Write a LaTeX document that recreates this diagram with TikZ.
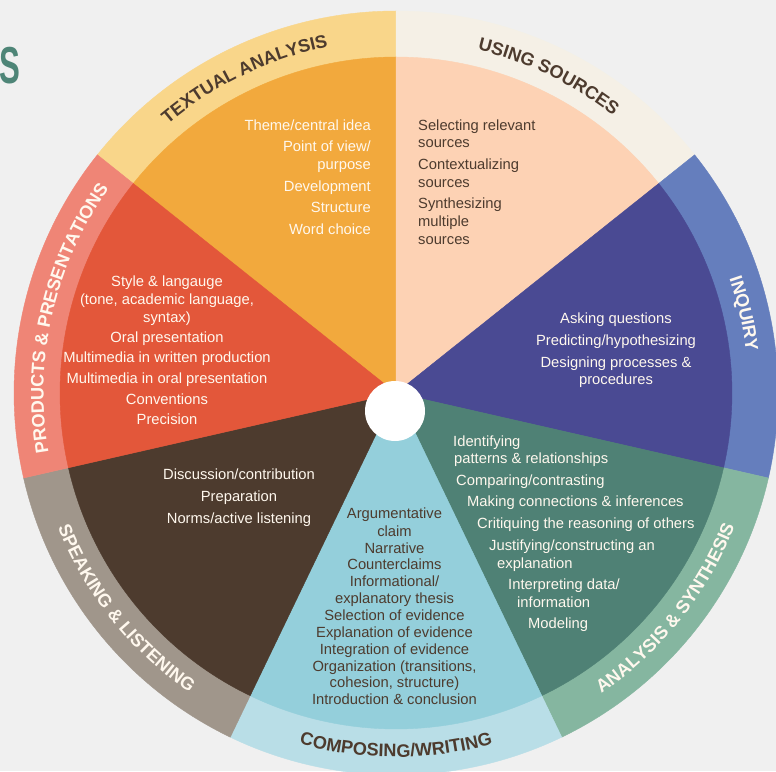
\documentclass[tikz,border=0pt]{standalone}
\usepackage{fontspec}
\setmainfont{Liberation Sans}
\usetikzlibrary{decorations.text}
\definecolor{bgc}{HTML}{F0F0F0}
\definecolor{secTA}{HTML}{F2A93D}\definecolor{ringTA}{HTML}{F9D68A}
\definecolor{secUS}{HTML}{FDD2B4}\definecolor{ringUS}{HTML}{F5F0E6}
\definecolor{secIQ}{HTML}{4A4A93}\definecolor{ringIQ}{HTML}{657EBD}
\definecolor{secAN}{HTML}{4F8175}\definecolor{ringAN}{HTML}{85B6A0}
\definecolor{secCW}{HTML}{94CFDB}\definecolor{ringCW}{HTML}{B9DEE7}
\definecolor{secSL}{HTML}{4D3B2E}\definecolor{ringSL}{HTML}{A0968B}
\definecolor{secPP}{HTML}{E3573A}\definecolor{ringPP}{HTML}{EF8576}
\definecolor{wtxt}{HTML}{FFF8EE}
\definecolor{dtxt}{HTML}{4D3B2E}
\definecolor{teal}{HTML}{4E8577}
\newcommand{\itemfont}{\fontsize{14.75}{17}\selectfont}
\newcommand{\ringfont}{\bfseries\fontsize{18.1}{18}\selectfont}
\tikzset{
  item/.style={font=\itemfont, inner sep=0pt, text height=14pt, text depth=3pt},
  wit/.style={item, text=wtxt},
  dit/.style={item, text=dtxt},
  ringlabel/.style={decorate, decoration={text along path, text align=center, text color=#1}}
}
\begin{document}
\begin{tikzpicture}[x=1pt,y=1pt]
\useasboundingbox (-396,-378) rectangle (380,393);
\clip (-396,-378) rectangle (380,393);
\fill[bgc] (-396,-378) rectangle (380,393);
% outer rings
\foreach \a/\b/\c in {90/141.4286/ringTA, 38.5714/90/ringUS, -12.8571/38.5714/ringIQ,
  -64.2857/-12.8571/ringAN, -115.7143/-64.2857/ringCW, -167.1429/-115.7143/ringSL,
  -218.5714/-167.1429/ringPP}{
  \filldraw[fill=\c, draw=\c, line width=0.4pt] (0,0) -- (\a:382pt) arc[start angle=\a, end angle=\b, radius=382pt] -- cycle;
}
% inner sectors
\foreach \a/\b/\c in {90/141.4286/secTA, 38.5714/90/secUS, -12.8571/38.5714/secIQ,
  -64.2857/-12.8571/secAN, -115.7143/-64.2857/secCW, -167.1429/-115.7143/secSL,
  -218.5714/-167.1429/secPP}{
  \filldraw[fill=\c, draw=\c, line width=0.4pt] (0,0) -- (\a:336pt) arc[start angle=\a, end angle=\b, radius=336pt] -- cycle;
}
\node[circle, fill=white, minimum size=60pt, inner sep=0pt] (hub) at (-1,-18) {};
% ring labels
\path[ringlabel=dtxt, decoration={text={|\ringfont|TEXTUAL ANALYSIS}}]
  (141.4286:352.5pt) arc[start angle=141.4286, end angle=90, radius=352.5pt];
\path[ringlabel=dtxt, decoration={text={|\ringfont|USING SOURCES}}]
  (90:352.5pt) arc[start angle=90, end angle=38.5714, radius=352.5pt];
\path[ringlabel=wtxt, decoration={text={|\ringfont|INQUIRY}}]
  (38.5714:352.5pt) arc[start angle=38.5714, end angle=-12.8571, radius=352.5pt];
\path[ringlabel=wtxt, decoration={text={|\ringfont|PRODUCTS {\&} PRESENTATIONS}}]
  (192.8571:352.5pt) arc[start angle=192.8571, end angle=141.4286, radius=352.5pt];
\path[ringlabel=wtxt, decoration={text={|\ringfont|ANALYSIS {\&} SYNTHESIS}}]
  (-64.2857:364pt) arc[start angle=-64.2857, end angle=-12.8571, radius=364pt];
\path[ringlabel=dtxt, decoration={text={|\ringfont|COMPOSING/WRITING}}]
  (-115.7143:364pt) arc[start angle=-115.7143, end angle=-64.2857, radius=364pt];
\path[ringlabel=wtxt, decoration={text={|\ringfont|SPEAKING {\&} LISTENING}}]
  (192.8571:364pt) arc[start angle=192.8571, end angle=244.2857, radius=364pt];
% title fragment
\node[font=\bfseries\fontsize{52}{52}\selectfont, text=teal, inner sep=0pt, anchor=east, xscale=0.6] (title) at (-376,327) {S};
% textual analysis
\node[wit, anchor=east] (ta1) at (-25,268) {Theme/central idea};
\node[wit, anchor=east] (ta2) at (-25,247) {Point of view/};
\node[wit, anchor=east] (ta3) at (-25,229) {purpose};
\node[wit, anchor=east] (ta4) at (-25,207) {Development};
\node[wit, anchor=east] (ta5) at (-25,186) {Structure};
\node[wit, anchor=east] (ta6) at (-25,164) {Word choice};
% using sources
\node[dit, anchor=west] (us1) at (22,268) {Selecting relevant};
\node[dit, anchor=west] (us2) at (22,251) {sources};
\node[dit, anchor=west] (us3) at (22,229) {Contextualizing};
\node[dit, anchor=west] (us4) at (22,211) {sources};
\node[dit, anchor=west] (us5) at (22,190) {Synthesizing};
\node[dit, anchor=west] (us6) at (22,172) {multiple};
\node[dit, anchor=west] (us7) at (22,154) {sources};
% inquiry
\node[wit] (iq1) at (220,75) {Asking questions};
\node[wit] (iq2) at (220,53) {Predicting/hypothesizing};
\node[wit] (iq3) at (220,31) {Designing processes \&};
\node[wit] (iq4) at (220,14) {procedures};
% analysis & synthesis
\node[wit, anchor=west] (an1) at (57,-48) {Identifying};
\node[wit, anchor=west] (an2) at (58,-65) {patterns \& relationships};
\node[wit, anchor=west] (an3) at (60,-87) {Comparing/contrasting};
\node[wit, anchor=west] (an4) at (71,-108) {Making connections \& inferences};
\node[wit, anchor=west] (an5) at (81,-130) {Critiquing the reasoning of others};
\node[wit, anchor=west] (an6) at (93,-152) {Justifying/constructing an};
\node[wit, anchor=west] (an7) at (101,-170) {explanation};
\node[wit, anchor=west] (an8) at (112,-191) {Interpreting data/};
\node[wit, anchor=west] (an9) at (121,-209) {information};
\node[wit, anchor=west] (an10) at (132,-230) {Modeling};
% speaking & listening
\node[wit] (sl1) at (-157,-81) {Discussion/contribution};
\node[wit] (sl2) at (-157,-103) {Preparation};
\node[wit] (sl3) at (-157,-125) {Norms/active listening};
% composing / writing
\node[dit] (cw1) at (-1.5,-120) {Argumentative};
\node[dit] (cw2) at (-1.5,-138) {claim};
\node[dit] (cw3) at (-1.5,-155) {Narrative};
\node[dit] (cw4) at (-1.5,-171) {Counterclaims};
\node[dit] (cw5) at (-1.5,-188) {Informational/};
\node[dit] (cw6) at (-1.5,-205) {explanatory thesis};
\node[dit] (cw7) at (-1.5,-222) {Selection of evidence};
\node[dit] (cw8) at (-1.5,-239) {Explanation of evidence};
\node[dit] (cw9) at (-1.5,-256) {Integration of evidence};
\node[dit] (cw10) at (-1.5,-273) {Organization (transitions,};
\node[dit] (cw11) at (-1.5,-289) {cohesion, structure)};
\node[dit] (cw12) at (-1.5,-306) {Introduction \& conclusion};
% products & presentations
\node[wit] (pp1) at (-229,112) {Style \& langauge};
\node[wit] (pp2) at (-229,94) {(tone, academic language,};
\node[wit] (pp3) at (-229,76) {syntax)};
\node[wit] (pp4) at (-229,56) {Oral presentation};
\node[wit] (pp5) at (-229,36) {Multimedia in written production};
\node[wit] (pp6) at (-229,15) {Multimedia in oral presentation};
\node[wit] (pp7) at (-229,-6) {Conventions};
\node[wit] (pp8) at (-229,-26) {Precision};
\end{tikzpicture}
\end{document}
